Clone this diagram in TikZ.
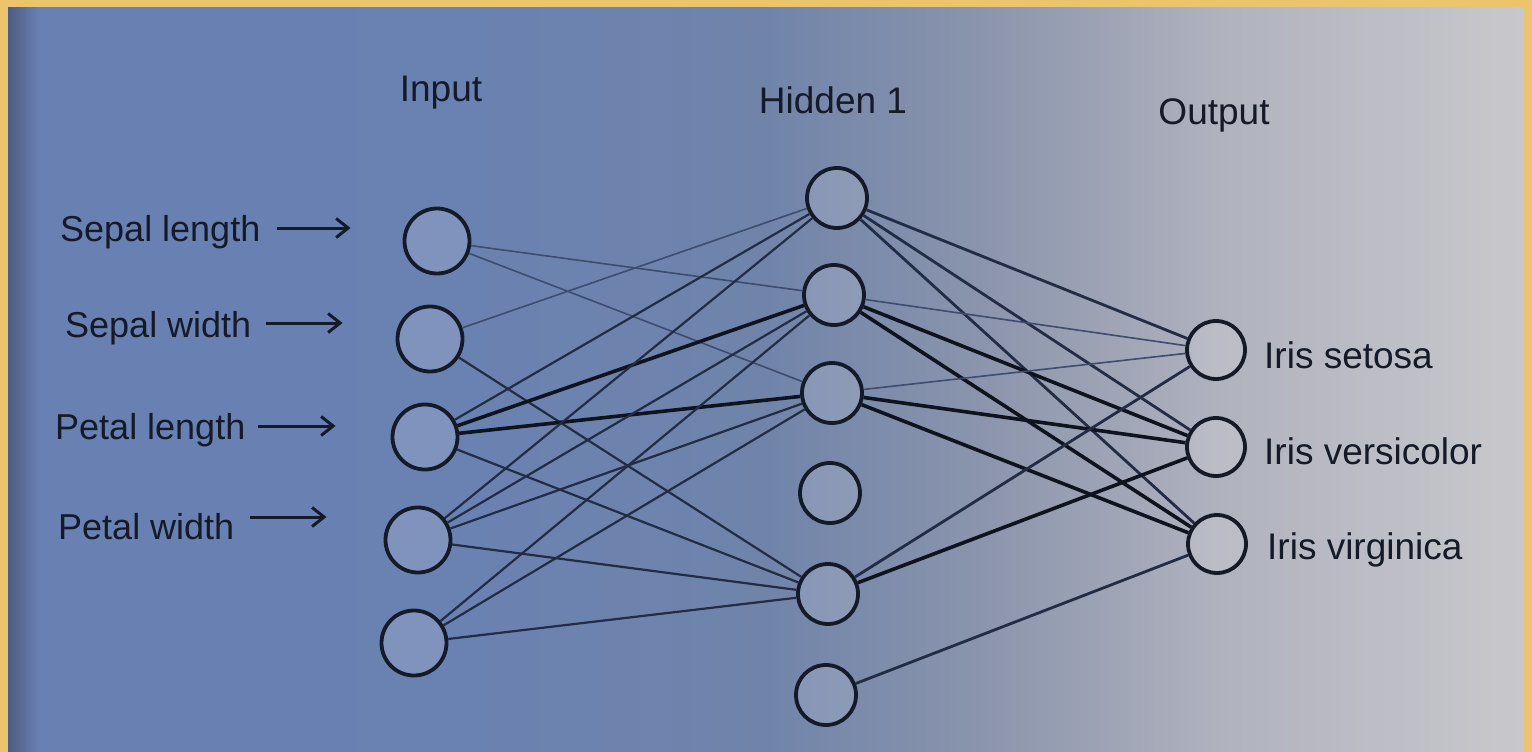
\documentclass[tikz,border=0pt]{standalone}
\usepackage{fontspec}
\setmainfont{Liberation Sans}
\usetikzlibrary{arrows.meta}

\definecolor{parchment}{HTML}{EBC46C}
\definecolor{ink}{HTML}{151A28}
\definecolor{wire}{HTML}{222C44}
\definecolor{faintwire}{HTML}{3E4C6E}
\definecolor{heavywire}{HTML}{0F131E}

% page tone: blue on the left fading to grey on the right
% (TikZ fits the path into the middle half of the shading, 25bp..75bp)
\definecolor{toneA}{HTML}{4E5C82}
\definecolor{toneB}{HTML}{6880B2}
\definecolor{toneC}{HTML}{6A82B2}
\definecolor{toneD}{HTML}{7084AA}
\definecolor{toneE}{HTML}{8A94AC}
\definecolor{toneF}{HTML}{B0B2BE}
\definecolor{toneG}{HTML}{C8C8CC}
\pgfdeclarehorizontalshading{pagetone}{100bp}{%
  color(0bp)=(toneA);
  color(25bp)=(toneA);
  color(26bp)=(toneB);
  color(40bp)=(toneC);
  color(50bp)=(toneD);
  color(57bp)=(toneE);
  color(65bp)=(toneF);
  color(75bp)=(toneG);
  color(100bp)=(toneG)}

\tikzset{
  neuron/.style={circle, draw=ink, line width=3.8pt, fill=white, fill opacity=0.14,
                 text opacity=1, inner sep=0pt},
  inneuron/.style={neuron, minimum size=65pt},
  hidneuron/.style={neuron, minimum size=60pt},
  outneuron/.style={neuron, minimum size=58pt},
  lbl/.style={text=ink, font=\fontsize{36}{40}\selectfont, inner sep=0pt},
  rlbl/.style={lbl, font=\fontsize{37}{42}\selectfont},
  title/.style={lbl, font=\fontsize{37}{42}\selectfont},
  feedarrow/.style={draw=ink, line width=3pt, -{Straight Barb[length=12pt,width=19pt,line width=3pt]}},
  faint/.style={draw=faintwire, line width=1.6pt},
  thinw/.style={draw=wire, line width=2.2pt},
  midw/.style={draw=wire, line width=2.8pt},
  heavy/.style={draw=heavywire, line width=3.6pt},
}

\begin{document}
\begin{tikzpicture}[x=1pt,y=-1pt]
  % frame and page
  \fill[parchment] (0,0) rectangle (1532,752);
  \shade[shading=pagetone] (8,8) rectangle (1524,752);
  \useasboundingbox (0,0) rectangle (1532,752);

  % layer titles
  \node[title] (tin)  at (441,93)  {Input};
  \node[title] (thid) at (833,100) {Hidden 1};
  \node[title] (tout) at (1214,115) {Output};

  % input layer
  \node[inneuron] (i1) at (437,241) {};
  \node[inneuron] (i2) at (430,339) {};
  \node[inneuron] (i3) at (425,437) {};
  \node[inneuron] (i4) at (418,540) {};
  \node[inneuron] (i5) at (414,643) {};

  % hidden layer
  \node[hidneuron] (h1) at (837,198) {};
  \node[hidneuron] (h2) at (834,295) {};
  \node[hidneuron] (h3) at (832,393) {};
  \node[hidneuron] (h4) at (830,493) {};
  \node[hidneuron] (h5) at (828,594) {};
  \node[hidneuron] (h6) at (826,695) {};

  % output layer
  \node[outneuron] (o1) at (1216,350) {};
  \node[outneuron] (o2) at (1216,447) {};
  \node[outneuron] (o3) at (1217,544) {};

  % feature labels with their arrows
  \node[lbl, anchor=west] (f1) at (60,232) {Sepal length};
  \node[lbl, anchor=west] (f2) at (65,328) {Sepal width};
  \node[lbl, anchor=west] (f3) at (55,430) {Petal length};
  \node[lbl, anchor=west] (f4) at (58,527) {Petal width};
  \draw[feedarrow] ([xshift=16pt,yshift=4pt]f1.east) -- ++(74pt,0);
  \draw[feedarrow] ([xshift=14pt,yshift=5pt]f2.east) -- ++(77pt,0);
  \draw[feedarrow] ([xshift=12pt,yshift=4pt]f3.east) -- ++(78pt,0);
  \draw[feedarrow] ([xshift=15pt,yshift=10pt]f4.east) -- ++(77pt,0);

  % class labels
  \node[rlbl, anchor=west] (c1) at (1264,355) {Iris setosa};
  \node[rlbl, anchor=west] (c2) at (1264,451) {Iris versicolor};
  \node[rlbl, anchor=west] (c3) at (1267,550) {Iris virginica};

  % input -> hidden
  \draw[faint] (i1) -- (h2);
  \draw[faint] (i1) -- (h3);
  \draw[faint] (i2) -- (h1);
  \draw[thinw] (i2) -- (h5);
  \draw[thinw] (i3) -- (h1);
  \draw[heavy] (i3) -- (h2);
  \draw[heavy] (i3) -- (h3);
  \draw[thinw] (i3) -- (h5);
  \draw[thinw] (i4) -- (h1);
  \draw[thinw] (i4) -- (h2);
  \draw[thinw] (i4) -- (h3);
  \draw[thinw] (i4) -- (h5);
  \draw[thinw] (i5) -- (h2);
  \draw[thinw] (i5) -- (h3);
  \draw[thinw] (i5) -- (h5);

  % hidden -> output
  \draw[midw]  (h1) -- (o1);
  \draw[midw]  (h1) -- (o2);
  \draw[midw]  (h1) -- (o3);
  \draw[faint] (h2) -- (o1);
  \draw[heavy] (h2) -- (o2);
  \draw[heavy] (h2) -- (o3);
  \draw[faint] (h3) -- (o1);
  \draw[heavy] (h3) -- (o2);
  \draw[heavy] (h3) -- (o3);
  \draw[midw]  (h5) -- (o1);
  \draw[heavy] (h5) -- (o2);
  \draw[midw]  (h6) -- (o3);
\end{tikzpicture}
\end{document}
